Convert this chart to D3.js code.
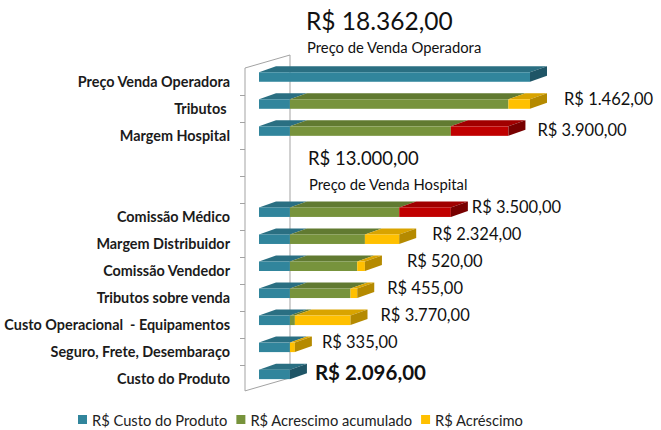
<!DOCTYPE html>
<html>
<head>
<meta charset="utf-8">
<script src="https://cdn.jsdelivr.net/npm/d3@7"></script>
<style>
  body { margin: 0; background: #fff; }
  svg { display: block; font-family: Lato, "Open Sans", sans-serif; }
  .cat-axis text { font-weight: bold; font-size: 14.4px; fill: #1b1b1b; white-space: pre; }
  .value-label { font-size: 16.5px; fill: #111; }
  .value-label.base { font-weight: bold; font-size: 20.5px; }
  .price-value { fill: #111; }
  .price-title { font-size: 14.8px; fill: #111; }
  .legend text { font-size: 14.7px; fill: #222; }
  .wall { stroke: #a3a3a3; stroke-width: 1; fill: none; }
</style>
</head>
<body>
<svg width="661" height="430"></svg>
<script>
// Rows from top to bottom; the two blank rows hold the hospital price note
const categories = [
  "Preço Venda Operadora",
  "Tributos ",
  "Margem Hospital",
  "",
  "",
  "Comissão Médico",
  "Margem Distribuidor",
  "Comissão Vendedor",
  "Tributos sobre venda",
  "Custo Operacional  - Equipamentos",
  "Seguro, Frete, Desembaraço",
  "Custo do Produto"
];
const productCost = [18362, 2096, 2096, 0, 0, 2096, 2096, 2096, 2096, 2096, 2096, 2096];
const accumulated = [0, 14804, 10904, 0, 0, 7404, 5080, 4560, 4105, 335, 0, 0];
const increase    = [0, 1462, 3900, 0, 0, 3500, 2324, 520, 455, 3770, 335, 0];
const marginRows = ["Margem Hospital", "Comissão Médico"];
const seriesNames = ["R$ Custo do Produto", "R$ Acrescimo acumulado", "R$ Acréscimo"];
const priceTitles = ["Preço de Venda Operadora", "Preço de Venda Hospital"];
const priceValues = [18362, 13000];

const colors = {
  teal:   { front: "#31859c", top: "#2a6f82", side: "#1f5566" },
  green:  { front: "#77933c", top: "#617a31", side: "#4b5f25" },
  yellow: { front: "#ffc000", top: "#d9a400", side: "#b58a00" },
  red:    { front: "#c00000", top: "#a10000", side: "#780000" }
};

// hand-placed label nudges, as in the original sheet
const labelShift = {
  "Tributos ": [4, 0],
  "Margem Hospital": [-1, 4],
  "Comissão Médico": [-9, 0],
  "Margem Distribuidor": [3, 0],
  "Comissão Vendedor": [12, 0],
  "Seguro, Frete, Desembaraço": [-3, 0],
  "Custo do Produto": [-5, 3]
};

const fmt = d3.formatLocale({
  decimal: ",", thousands: ".", grouping: [3], currency: ["R$ ", ""]
}).format("$,.2f");

const svg = d3.select("svg");

const wallX = 245;
const wall = { dx: 45, dy: -13 };
const depth = { dx: 17, dy: -6 };
const barH = 9.5;

const x = d3.scaleLinear()
  .domain([0, d3.max(productCost)])
  .range([259, 530]);

const y = d3.scaleBand()
  .domain(d3.range(categories.length))
  .range([68, 392.4]);

const bw = y.bandwidth();
const rowMid = i => y(i) + bw / 2;

// side wall outline
const [yTop, yBot] = y.range();
svg.append("path")
  .attr("class", "wall")
  .attr("d", `M${wallX},${yBot - 1.5}V${yTop}l${wall.dx},${wall.dy}V${yBot - 1.5 + wall.dy}` +
             `M${wallX},${yBot - 1.5}l${wall.dx},${wall.dy}`);

// boundary ticks between categories
svg.append("g")
  .selectAll("line")
  .data(d3.range(1, categories.length))
  .join("line")
  .attr("class", "wall")
  .attr("x1", wallX - 5)
  .attr("x2", wallX)
  .attr("y1", d => Math.round(y(d)) + 0.5)
  .attr("y2", d => Math.round(y(d)) + 0.5);

// category labels
const catAxis = svg.append("g")
  .attr("class", "cat-axis")
  .attr("transform", `translate(${wallX},1)`)
  .call(d3.axisLeft(y).tickSize(0).tickPadding(15).tickFormat(i => categories[i]));
catAxis.attr("font-family", null).attr("font-size", null);
catAxis.select(".domain").remove();

function drawBox(g, x0, x1, top, c, withSide) {
  if (x1 - x0 <= 0) return;
  g.append("path")
    .attr("fill", c.top)
    .attr("d", `M${x0},${top}L${x1},${top}l${depth.dx},${depth.dy}L${x0 + depth.dx},${top + depth.dy}Z`);
  g.append("rect")
    .attr("fill", c.front)
    .attr("x", x0).attr("y", top)
    .attr("width", x1 - x0).attr("height", barH);
  if (withSide) {
    g.append("path")
      .attr("fill", c.side)
      .attr("d", `M${x1},${top}l${depth.dx},${depth.dy}v${barH}l${-depth.dx},${-depth.dy}Z`);
  }
}

const bars = svg.append("g");
categories.forEach((cat, i) => {
  if (productCost[i] === 0) return;
  const top = rowMid(i) - 4.5 - barH / 2;
  const s0 = x(0);
  const s1 = x(productCost[i]);
  const s2 = x(productCost[i] + accumulated[i]);
  const s3 = x(productCost[i] + accumulated[i] + increase[i]);
  const incColor = marginRows.includes(cat) ? colors.red : colors.yellow;
  drawBox(bars, s0, s1, top, colors.teal, s1 === s3);
  drawBox(bars, s1, s2, top, colors.green, s2 === s3 && s1 !== s2);
  drawBox(bars, s2, s3, top, incColor, s2 !== s3);
});

// value labels
const labels = svg.append("g");
categories.forEach((cat, i) => {
  if (i === 0 || productCost[i] === 0) return;
  const total = productCost[i] + accumulated[i] + increase[i];
  const isBase = increase[i] === 0;
  const shift = labelShift[cat] || [0, 0];
  labels.append("text")
    .attr("class", isBase ? "value-label base" : "value-label")
    .attr("x", x(total) + 30 + shift[0])
    .attr("y", rowMid(i) - 9.5 + shift[1])
    .attr("dominant-baseline", "central")
    .text(fmt(isBase ? productCost[i] : increase[i]));
});

// price notes
const notes = svg.append("g");
notes.append("text")
  .attr("class", "price-value")
  .attr("x", 306).attr("y", rowMid(0) - 61)
  .attr("dominant-baseline", "central")
  .attr("font-size", 24.5)
  .text(fmt(priceValues[0]));
notes.append("text")
  .attr("class", "price-title")
  .attr("x", 307).attr("y", rowMid(0) - 35)
  .attr("dominant-baseline", "central")
  .text(priceTitles[0]);
notes.append("text")
  .attr("class", "price-value")
  .attr("x", 308).attr("y", rowMid(3) - 4.5)
  .attr("dominant-baseline", "central")
  .attr("font-size", 18.5)
  .text(fmt(priceValues[1]));
notes.append("text")
  .attr("class", "price-title")
  .attr("x", 309).attr("y", rowMid(4) - 5.5)
  .attr("dominant-baseline", "central")
  .text(priceTitles[1]);

// legend
const legend = svg.append("g").attr("class", "legend");
const legendColors = [colors.teal.front, colors.green.front, colors.yellow.front];
let lx = 0;
seriesNames.forEach((name, i) => {
  const item = legend.append("g").attr("transform", `translate(${lx},0)`);
  item.append("rect")
    .attr("x", 0).attr("y", -5)
    .attr("width", 9).attr("height", 9)
    .attr("fill", legendColors[i]);
  const t = item.append("text")
    .attr("x", 14).attr("y", 0)
    .attr("dominant-baseline", "central")
    .text(name);
  lx += 14 + t.node().getComputedTextLength() + 9;
});
legend.attr("transform", "translate(78,420)");
</script>
</body>
</html>
